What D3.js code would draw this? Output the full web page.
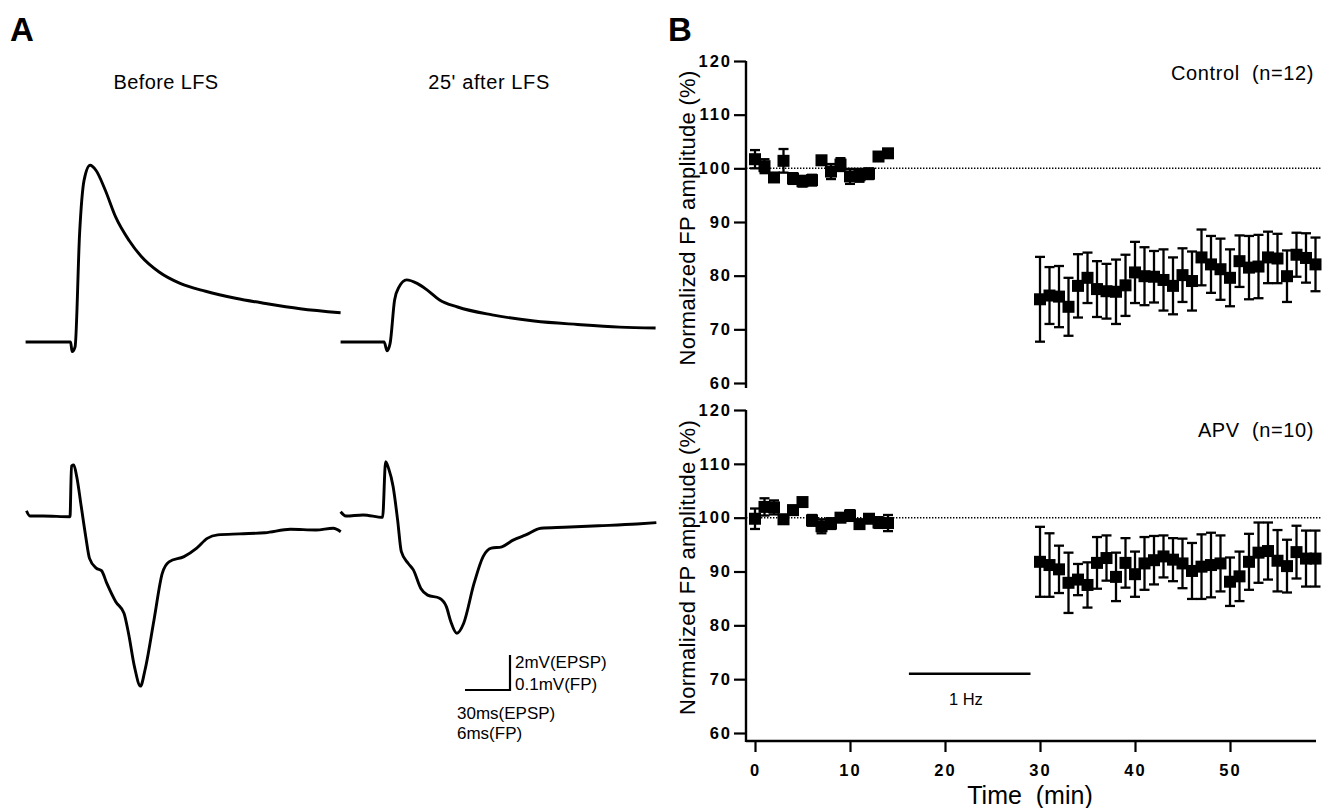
<!DOCTYPE html>
<html>
<head>
<meta charset="utf-8">
<script src="https://cdn.jsdelivr.net/npm/d3@7"></script>
<style>
  body { margin: 0; background: #fff; }
  svg { display: block; font-family: "Liberation Sans", Arial, Helvetica, sans-serif; }
</style>
</head>
<body>
<script>
// ---- panel A traces ([ms, mV]) ----
const epspBefore = [[0,0],[30,0],[31,-0.55],[33,-0.27],[36,6.2],[39,9.25],[43,10.1],[47,9.8],[53,8.7],[60,7.15],[69,5.8],[77,4.9],[89,4.0],[103,3.35],[120,2.9],[140,2.5],[160,2.2],[183,1.9],[210,1.67]];
const epspAfter = [[0,0],[29,0],[31,-0.5],[33,-0.08],[36,2.4],[39,3.15],[44,3.55],[51,3.35],[58,2.95],[66,2.4],[78,2.0],[101,1.55],[129,1.2],[158,1.0],[186,0.85],[210,0.8]];
const fpBefore = [[0,0.015],[0.45,0],[2.2,0],[5.8,-0.002],[6.0,0.143],[6.3,0.146],[6.7,0.112],[7.3,0.027],[7.9,-0.059],[8.4,-0.121],[9.3,-0.149],[10.0,-0.156],[10.7,-0.192],[11.9,-0.245],[13.0,-0.278],[13.6,-0.335],[14.4,-0.431],[15.2,-0.486],[15.8,-0.44],[17.0,-0.297],[18.1,-0.164],[19.0,-0.131],[21.0,-0.116],[22.7,-0.092],[24.1,-0.064],[25.5,-0.054],[28.4,-0.051],[31.8,-0.048],[35.2,-0.038],[38.6,-0.04],[40.9,-0.035],[41.9,-0.045]];
const fpAfter = [[0,0.012],[0.7,0],[3.0,0.003],[5.6,-0.004],[6.0,0.155],[6.4,0.136],[7.0,0.084],[7.6,-0.011],[8.1,-0.102],[9.0,-0.135],[9.7,-0.154],[10.7,-0.207],[11.6,-0.226],[13.2,-0.235],[14.1,-0.259],[14.7,-0.302],[15.5,-0.335],[16.4,-0.307],[17.8,-0.192],[19.0,-0.116],[20.1,-0.092],[21.5,-0.088],[23.0,-0.069],[24.7,-0.054],[26.7,-0.035],[29.8,-0.032],[34.4,-0.028],[39.5,-0.023],[42.1,-0.019]];

// ---- panel B: normalized FP amplitude (%) mean and SEM ----
const minutesPre  = [0,1,2,3,4,5,6,7,8,9,10,11,12,13,14];
const minutesPost = [30,31,32,33,34,35,36,37,38,39,40,41,42,43,44,45,46,47,48,49,50,51,52,53,54,55,56,57,58,59];

const controlPre    = [101.7,100.4,98.3,101.4,98.1,97.6,97.8,101.5,99.4,100.7,98.5,98.7,99.0,102.2,102.8];
const controlPreErr = [1.7,1.3,0.8,2.2,1.0,1.0,1.0,0.5,1.4,1.2,1.4,1.2,1.0,0.3,0.3];
const controlPost    = [75.6,76.3,76.1,74.2,78.1,79.6,77.5,77.1,77.0,78.2,80.6,79.9,79.8,79.2,78.1,80.1,79.0,83.4,82.1,81.2,79.6,82.7,81.5,81.7,83.4,83.2,79.9,83.9,83.3,82.1];
const controlPostErr = [7.9,5.3,5.7,5.4,5.9,4.7,5.2,5.1,6.0,5.7,5.7,5.4,4.8,5.7,5.3,5.0,5.5,5.2,5.3,5.7,5.3,4.8,5.9,5.9,4.8,4.6,4.8,4.1,4.6,5.0];

const apvPre    = [99.8,102.0,101.9,99.7,101.4,102.9,99.5,98.4,98.9,100.0,100.4,98.8,99.8,99.1,99.0];
const apvPreErr = [1.9,1.6,1.3,0.8,0.8,0.5,1.0,1.3,1.0,0.8,1.0,0.8,0.5,1.0,1.5];
const apvPost    = [91.8,91.2,90.4,87.9,88.5,87.5,91.6,92.5,89.0,91.6,89.5,91.5,92.1,92.8,92.2,91.5,90.1,90.9,91.2,91.5,88.1,89.1,91.8,93.5,93.8,92.0,91.0,93.6,92.4,92.4];
const apvPostErr = [6.5,5.9,4.4,5.6,2.9,4.2,4.8,4.2,4.5,4.6,4.2,4.9,4.5,3.9,4.0,4.6,5.2,6.0,6.0,5.2,4.5,4.6,5.2,5.6,5.3,5.7,4.9,4.9,5.2,5.2];

const yTicks = [60,70,80,90,100,110,120];
const xTicks = [0,10,20,30,40,50];
const stimWindow = [16.2, 29];   // 1 Hz stimulation, minutes

const W = 1329, H = 808;
const svg = d3.select("body").append("svg").attr("width", W).attr("height", H);

// ================= Panel A =================
svg.append("text").attr("x", 10).attr("y", 41).attr("font-size", 33).attr("font-weight", "bold").text("A");

svg.append("text").attr("x", 166).attr("y", 89).attr("text-anchor", "middle")
  .attr("font-size", 20).attr("letter-spacing", 0.4).text("Before LFS");
svg.append("text").attr("x", 489).attr("y", 89).attr("text-anchor", "middle")
  .attr("font-size", 20).attr("letter-spacing", 0.6).text("25' after LFS");

const epspT1 = d3.scaleLinear().domain([0, 210]).range([25.6, 340.6]);
const epspT2 = d3.scaleLinear().domain([0, 210]).range([340.6, 655.6]);
const epspV  = d3.scaleLinear().domain([0, 2]).range([342, 307]);
const fpT1 = d3.scaleLinear().domain([0, 6]).range([26.5, 71.5]);
const fpT2 = d3.scaleLinear().domain([0, 6]).range([340.6, 385.6]);
const fpV  = d3.scaleLinear().domain([0, 0.1]).range([516, 481]);

function trace(data, xs, ys) {
  svg.append("path")
    .attr("d", d3.line().x(d => xs(d[0])).y(d => ys(d[1])).curve(d3.curveMonotoneX)(data))
    .attr("fill", "none").attr("stroke", "#000").attr("stroke-width", 2.9)
    .attr("stroke-linejoin", "round");
}
trace(epspBefore, epspT1, epspV);
trace(epspAfter, epspT2, epspV);
trace(fpBefore, fpT1, fpV);
trace(fpAfter, fpT2, fpV);

// scale bar
const cornerX = 510, cornerY = 690;
const barW = epspT1(30) - epspT1(0);
const barH = epspV(0) - epspV(2);
svg.append("path")
  .attr("d", `M${cornerX - barW},${cornerY}H${cornerX}V${cornerY - barH}`)
  .attr("fill", "none").attr("stroke", "#000").attr("stroke-width", 2.2);
const sb = [["2mV(EPSP)", 515, 668], ["0.1mV(FP)", 515, 690], ["30ms(EPSP)", 457, 719], ["6ms(FP)", 457, 739]];
svg.selectAll("text.sb").data(sb).enter().append("text").attr("class", "sb")
  .attr("x", d => d[1]).attr("y", d => d[2]).attr("font-size", 17).text(d => d[0]);

// ================= Panel B =================
svg.append("text").attr("x", 668).attr("y", 41).attr("font-size", 33).attr("font-weight", "bold").text("B");

const x = d3.scaleLinear().domain([-1, 59]).range([745.5, 1315.5]);
const yTop = d3.scaleLinear().domain([60, 120]).range([383, 61]);
const yBot = d3.scaleLinear().domain([60, 120]).range([733, 410]);
const axisX = 746;

function styleTicks(ax) {
  ax.selectAll(".tick line").attr("stroke-width", 2.2);
  ax.selectAll(".tick text").attr("font-size", 16.5).attr("font-weight", "bold")
    .attr("letter-spacing", 2).attr("fill", "#000")
    .attr("font-family", "'Liberation Sans', Arial, sans-serif");
}

function panel(y, pre, preErr, post, postErr, label, labelY, extendTo) {
  const g = svg.append("g");
  // y axis
  const ax = g.append("g").attr("transform", `translate(${axisX},0)`)
    .call(d3.axisLeft(y).tickValues(yTicks).tickSize(12).tickSizeOuter(0).tickPadding(2));
  ax.select(".domain").attr("d", `M0,${y(120)}V${extendTo}`).attr("stroke-width", 2.4);
  styleTicks(ax);

  // 100 % reference
  g.append("line").attr("x1", axisX).attr("x2", 1321).attr("y1", y(100)).attr("y2", y(100))
    .attr("stroke", "#000").attr("stroke-width", 1.5).attr("stroke-dasharray", "1.4,1.6");

  const pts = minutesPre.map((m, i) => ({ m, v: pre[i], e: preErr[i] }))
    .concat(minutesPost.map((m, i) => ({ m, v: post[i], e: postErr[i] })));

  const eb = g.append("g").attr("stroke", "#000").attr("stroke-width", 2.3);
  pts.forEach(p => {
    const cx = x(p.m), y1 = y(p.v + p.e), y2 = y(p.v - p.e);
    eb.append("line").attr("x1", cx).attr("x2", cx).attr("y1", y1).attr("y2", y2);
    eb.append("line").attr("x1", cx - 5).attr("x2", cx + 5).attr("y1", y1).attr("y2", y1);
    eb.append("line").attr("x1", cx - 5).attr("x2", cx + 5).attr("y1", y2).attr("y2", y2);
  });
  g.selectAll("rect.pt").data(pts).enter().append("rect").attr("class", "pt")
    .attr("x", d => x(d.m) - 6).attr("y", d => y(d.v) - 6)
    .attr("width", 12).attr("height", 12).attr("fill", "#000");

  g.append("text").attr("x", 1314).attr("y", labelY).attr("text-anchor", "end")
    .attr("font-size", 20).attr("letter-spacing", 0.6).attr("xml:space", "preserve").text(label);

  const mid = (y(60) + y(120)) / 2;
  g.append("text").attr("transform", `translate(695,${mid - 4}) rotate(-90)`)
    .attr("text-anchor", "middle").attr("font-size", 22).attr("letter-spacing", 0.3)
    .text("Normalized FP amplitude (%)");
}

panel(yTop, controlPre, controlPreErr, controlPost, controlPostErr, "Control  (n=12)", 80, 388);
panel(yBot, apvPre, apvPreErr, apvPost, apvPostErr, "APV  (n=10)", 437, 742);

// x axis (bottom panel only)
const xa = svg.append("g").attr("transform", "translate(0,741)")
  .call(d3.axisBottom(x).tickValues(xTicks).tickSize(11).tickSizeOuter(0).tickPadding(12));
xa.select(".domain").attr("d", `M${axisX},0H1316`).attr("stroke-width", 2.4);
styleTicks(xa);

svg.append("text").attr("x", 1030).attr("y", 804).attr("text-anchor", "middle")
  .attr("font-size", 25).attr("xml:space", "preserve").text("Time  (min)");

// 1 Hz stimulation bar
svg.append("line").attr("x1", x(stimWindow[0])).attr("x2", x(stimWindow[1]))
  .attr("y1", yBot(71)).attr("y2", yBot(71)).attr("stroke", "#000").attr("stroke-width", 2.4);
svg.append("text").attr("x", x((stimWindow[0] + stimWindow[1]) / 2 - 0.4)).attr("y", 705)
  .attr("text-anchor", "middle").attr("font-size", 16.5).text("1 Hz");
</script>
</body>
</html>
